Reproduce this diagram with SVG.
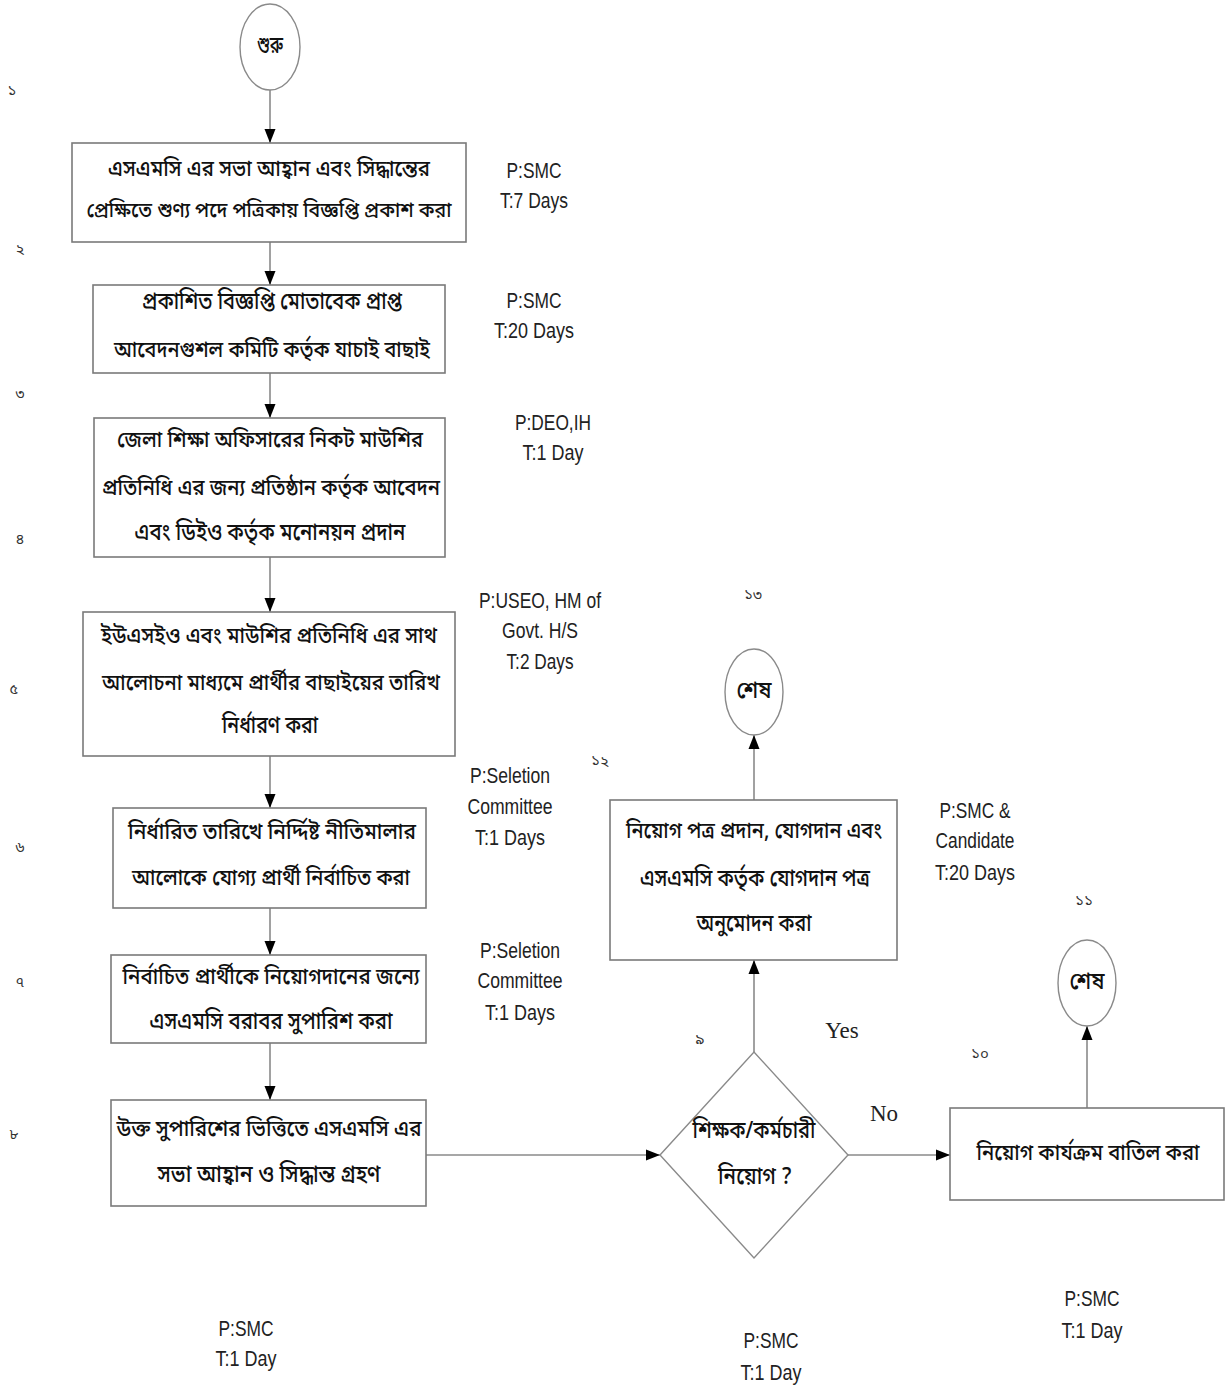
<svg xmlns="http://www.w3.org/2000/svg" width="1227" height="1387" viewBox="0 0 1227 1387">
<style>
.bg{fill:#ffffff}
.box{fill:#ffffff;stroke:#7a7a7a;stroke-width:1.6}
.term{fill:#ffffff;stroke:#8a8a8a;stroke-width:1.4}
.bn{font-family:"Noto Sans Bengali","Lohit Bengali","Noto Sans","DejaVu Sans",sans-serif;font-size:24px;font-weight:500;fill:#111;text-anchor:middle;dominant-baseline:central}
.sm{font-size:22px}
.xs{font-size:21px}
.en{font-family:"Liberation Sans Narrow","Liberation Sans",sans-serif;font-size:22px;fill:#222;text-anchor:middle;dominant-baseline:central}
.yn{font-family:"Liberation Serif",serif;font-size:23px;fill:#222;text-anchor:middle;dominant-baseline:central}
.num{font-family:"Noto Sans Bengali","Lohit Bengali","Noto Sans",sans-serif;font-size:15px;fill:#333;text-anchor:middle;dominant-baseline:central}
.con{fill:none;stroke:#8a8a8a;stroke-width:1.6}
</style>
<defs>
<marker id="arr" markerUnits="userSpaceOnUse" markerWidth="14" markerHeight="14" viewBox="0 0 14 14" refX="14" refY="7" orient="auto">
<path d="M0,1.5 L14,7 L0,12.5 Z" fill="#000"/>
</marker>
</defs>
<rect class="bg" x="0" y="0" width="1227" height="1387"/>

<g id="connectors">
<line class="con" x1="270" y1="90" x2="270" y2="143" marker-end="url(#arr)"/>
<line class="con" x1="270" y1="242" x2="270" y2="285" marker-end="url(#arr)"/>
<line class="con" x1="270" y1="373" x2="270" y2="418" marker-end="url(#arr)"/>
<line class="con" x1="270" y1="557" x2="270" y2="612" marker-end="url(#arr)"/>
<line class="con" x1="270" y1="756" x2="270" y2="808" marker-end="url(#arr)"/>
<line class="con" x1="270" y1="908" x2="270" y2="955" marker-end="url(#arr)"/>
<line class="con" x1="270" y1="1043" x2="270" y2="1100" marker-end="url(#arr)"/>
<line class="con" x1="426" y1="1155" x2="660" y2="1155" marker-end="url(#arr)"/>
<line class="con" x1="754" y1="1052" x2="754" y2="960" marker-end="url(#arr)"/>
<line class="con" x1="754" y1="800" x2="754" y2="735" marker-end="url(#arr)"/>
<line class="con" x1="848" y1="1155" x2="950" y2="1155" marker-end="url(#arr)"/>
<line class="con" x1="1087" y1="1108" x2="1087" y2="1026" marker-end="url(#arr)"/>
<text class="yn" x="842" y="1030">Yes</text>
<text class="yn" x="884" y="1113">No</text>
</g>

<g id="start">
<ellipse class="term" cx="270" cy="47" rx="30" ry="43"/>
<text class="bn" x="270" y="47" textLength="26" lengthAdjust="spacingAndGlyphs">শুরু</text>
</g>

<g id="step1">
<rect class="box" x="72" y="143" width="394" height="99"/>
<text class="bn sm" x="269" y="170" textLength="322" lengthAdjust="spacingAndGlyphs">এসএমসি এর সভা আহ্বান এবং সিদ্ধান্তের</text>
<text class="bn xs" x="269" y="212" textLength="365" lengthAdjust="spacingAndGlyphs">প্রেক্ষিতে শুণ্য পদে পত্রিকায় বিজ্ঞপ্তি প্রকাশ করা</text>
<text class="en" x="534" y="170" textLength="55" lengthAdjust="spacingAndGlyphs">P:SMC</text>
<text class="en" x="534" y="200" textLength="68" lengthAdjust="spacingAndGlyphs">T:7 Days</text>
</g>

<g id="step2">
<rect class="box" x="93" y="285" width="352" height="88"/>
<text class="bn" x="272" y="303" textLength="260" lengthAdjust="spacingAndGlyphs">প্রকাশিত বিজ্ঞপ্তি মোতাবেক প্রাপ্ত</text>
<text class="bn sm" x="272" y="351" textLength="316" lengthAdjust="spacingAndGlyphs">আবেদনগুশল কমিটি কর্তৃক যাচাই বাছাই</text>
<text class="en" x="534" y="300" textLength="55" lengthAdjust="spacingAndGlyphs">P:SMC</text>
<text class="en" x="534" y="330" textLength="80" lengthAdjust="spacingAndGlyphs">T:20 Days</text>
</g>

<g id="step3">
<rect class="box" x="94" y="418" width="351" height="139"/>
<text class="bn sm" x="270" y="441" textLength="306" lengthAdjust="spacingAndGlyphs">জেলা শিক্ষা অফিসারের নিকট মাউশির</text>
<text class="bn sm" x="271" y="489" textLength="338" lengthAdjust="spacingAndGlyphs">প্রতিনিধি এর জন্য প্রতিষ্ঠান কর্তৃক আবেদন</text>
<text class="bn" x="270" y="534" textLength="271" lengthAdjust="spacingAndGlyphs">এবং ডিইও কর্তৃক মনোনয়ন প্রদান</text>
<text class="en" x="553" y="422" textLength="76" lengthAdjust="spacingAndGlyphs">P:DEO,IH</text>
<text class="en" x="553" y="452" textLength="61" lengthAdjust="spacingAndGlyphs">T:1 Day</text>
</g>

<g id="step4">
<rect class="box" x="83" y="612" width="372" height="144"/>
<text class="bn sm" x="269" y="637" textLength="336" lengthAdjust="spacingAndGlyphs">ইউএসইও এবং মাউশির প্রতিনিধি এর সাথ</text>
<text class="bn sm" x="271" y="684" textLength="338" lengthAdjust="spacingAndGlyphs">আলোচনা মাধ্যমে প্রার্থীর বাছাইয়ের তারিখ</text>
<text class="bn" x="270" y="727" textLength="96" lengthAdjust="spacingAndGlyphs">নির্ধারণ করা</text>
<text class="en" x="540" y="600" textLength="122" lengthAdjust="spacingAndGlyphs">P:USEO, HM of</text>
<text class="en" x="540" y="630" textLength="76" lengthAdjust="spacingAndGlyphs">Govt. H/S</text>
<text class="en" x="540" y="661" textLength="67" lengthAdjust="spacingAndGlyphs">T:2 Days</text>
</g>

<g id="step5">
<rect class="box" x="113" y="808" width="313" height="100"/>
<text class="bn sm" x="272" y="833" textLength="288" lengthAdjust="spacingAndGlyphs">নির্ধারিত তারিখে নির্দ্দিষ্ট নীতিমালার</text>
<text class="bn sm" x="271" y="879" textLength="278" lengthAdjust="spacingAndGlyphs">আলোকে যোগ্য প্রার্থী নির্বাচিত করা</text>
<text class="en" x="510" y="775" textLength="80" lengthAdjust="spacingAndGlyphs">P:Seletion</text>
<text class="en" x="510" y="806" textLength="85" lengthAdjust="spacingAndGlyphs">Committee</text>
<text class="en" x="510" y="837" textLength="70" lengthAdjust="spacingAndGlyphs">T:1 Days</text>
</g>

<g id="step6">
<rect class="box" x="111" y="955" width="315" height="88"/>
<text class="bn sm" x="271" y="978" textLength="297" lengthAdjust="spacingAndGlyphs">নির্বাচিত প্রার্থীকে নিয়োগদানের জন্যে</text>
<text class="bn" x="271" y="1023" textLength="243" lengthAdjust="spacingAndGlyphs">এসএমসি বরাবর সুপারিশ করা</text>
<text class="en" x="520" y="950" textLength="80" lengthAdjust="spacingAndGlyphs">P:Seletion</text>
<text class="en" x="520" y="980" textLength="85" lengthAdjust="spacingAndGlyphs">Committee</text>
<text class="en" x="520" y="1012" textLength="70" lengthAdjust="spacingAndGlyphs">T:1 Days</text>
</g>

<g id="step7">
<rect class="box" x="111" y="1100" width="315" height="106"/>
<text class="bn sm" x="269" y="1130" textLength="305" lengthAdjust="spacingAndGlyphs">উক্ত সুপারিশের ভিত্তিতে এসএমসি এর</text>
<text class="bn" x="269" y="1176" textLength="223" lengthAdjust="spacingAndGlyphs">সভা আহ্বান ও সিদ্ধান্ত গ্রহণ</text>
<text class="en" x="246" y="1328" textLength="55" lengthAdjust="spacingAndGlyphs">P:SMC</text>
<text class="en" x="246" y="1358" textLength="61" lengthAdjust="spacingAndGlyphs">T:1 Day</text>
</g>

<g id="decision">
<polygon class="term" points="660,1155 754,1052 848,1155 754,1258"/>
<text class="bn" x="754" y="1132" textLength="123" lengthAdjust="spacingAndGlyphs">শিক্ষক/কর্মচারী</text>
<text class="bn" x="755" y="1178" textLength="74" lengthAdjust="spacingAndGlyphs">নিয়োগ ?</text>
<text class="en" x="771" y="1340" textLength="55" lengthAdjust="spacingAndGlyphs">P:SMC</text>
<text class="en" x="771" y="1372" textLength="61" lengthAdjust="spacingAndGlyphs">T:1 Day</text>
</g>

<g id="appoint">
<rect class="box" x="610" y="800" width="287" height="160"/>
<text class="bn sm" x="754" y="832" textLength="256" lengthAdjust="spacingAndGlyphs">নিয়োগ পত্র প্রদান, যোগদান এবং</text>
<text class="bn" x="755" y="880" textLength="230" lengthAdjust="spacingAndGlyphs">এসএমসি কর্তৃক যোগদান পত্র</text>
<text class="bn" x="754" y="925" textLength="115" lengthAdjust="spacingAndGlyphs">অনুমোদন করা</text>
<text class="en" x="975" y="810" textLength="71" lengthAdjust="spacingAndGlyphs">P:SMC &amp;</text>
<text class="en" x="975" y="840" textLength="79" lengthAdjust="spacingAndGlyphs">Candidate</text>
<text class="en" x="975" y="872" textLength="80" lengthAdjust="spacingAndGlyphs">T:20 Days</text>
</g>

<g id="end1">
<ellipse class="term" cx="754" cy="692" rx="29" ry="43"/>
<text class="bn" x="754" y="692" textLength="35" lengthAdjust="spacingAndGlyphs">শেষ</text>
</g>

<g id="cancel">
<rect class="box" x="950" y="1108" width="274" height="92"/>
<text class="bn sm" x="1088" y="1154" textLength="223" lengthAdjust="spacingAndGlyphs">নিয়োগ কার্যক্রম বাতিল করা</text>
<text class="en" x="1092" y="1298" textLength="55" lengthAdjust="spacingAndGlyphs">P:SMC</text>
<text class="en" x="1092" y="1330" textLength="61" lengthAdjust="spacingAndGlyphs">T:1 Day</text>
</g>

<g id="end2">
<ellipse class="term" cx="1087" cy="983" rx="29" ry="43"/>
<text class="bn" x="1087" y="983" textLength="35" lengthAdjust="spacingAndGlyphs">শেষ</text>
</g>

<g id="step-numbers">
<text class="num" x="12" y="92">১</text>
<text class="num" x="20" y="250">২</text>
<text class="num" x="20" y="395">৩</text>
<text class="num" x="20" y="540">৪</text>
<text class="num" x="14" y="690">৫</text>
<text class="num" x="20" y="848">৬</text>
<text class="num" x="20" y="983">৭</text>
<text class="num" x="14" y="1135">৮</text>
<text class="num" x="700" y="1040">৯</text>
<text class="num" x="980" y="1055">১০</text>
<text class="num" x="1084" y="902">১১</text>
<text class="num" x="600" y="762">১২</text>
<text class="num" x="753" y="596">১৩</text>
</g>
</svg>
